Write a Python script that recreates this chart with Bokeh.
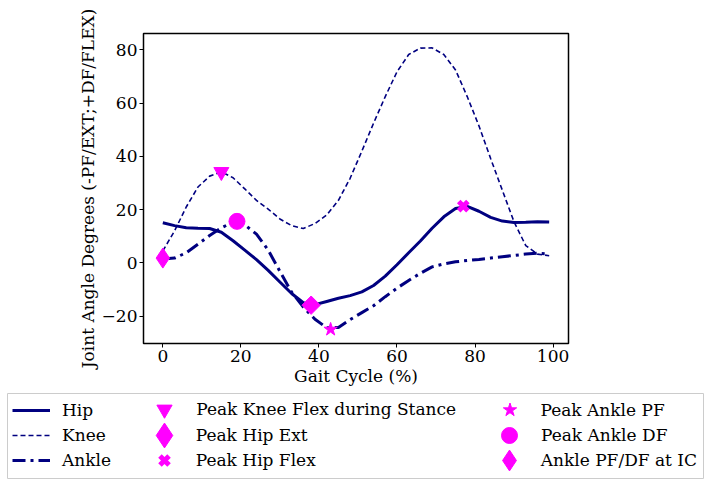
import math
from bokeh.plotting import figure
from bokeh.models import Range1d, FixedTicker, Legend, LegendItem
from bokeh.embed import file_html
from bokeh.resources import INLINE

# ---------------- data ----------------
gait_pct = [0, 3, 6, 9, 12, 15, 18, 21, 24, 27, 30, 33, 36, 39, 42, 45, 48,
            51, 54, 57, 60, 63, 66, 69, 72, 75, 78, 81, 84, 87, 90, 93, 96, 99]
hip_deg = [15.1, 14.0, 13.2, 13.0, 12.9, 11.5, 8.3, 4.8, 1.2, -2.8, -7.2, -11.5,
           -15.0, -15.7, -14.5, -13.3, -12.3, -10.9, -8.5, -5.0, -0.7, 3.8, 8.2,
           13.0, 17.3, 20.4, 21.2, 19.4, 17.1, 15.7, 15.2, 15.3, 15.5, 15.4]
knee_deg = [4.5, 12.0, 21.0, 28.5, 32.6, 34.2, 32.0, 27.8, 23.5, 20.2, 16.5, 14.0,
            12.9, 14.8, 18.0, 23.5, 31.8, 42.0, 52.5, 62.5, 71.8, 78.3, 80.7,
            80.8, 78.3, 72.5, 62.5, 51.5, 39.2, 27.3, 15.4, 6.5, 3.3, 2.7]
ankle_deg = [1.5, 1.8, 3.8, 7.0, 10.3, 13.2, 15.3, 14.3, 10.8, 4.8, -3.2, -11.0,
             -16.6, -21.2, -24.4, -24.3, -21.3, -18.7, -16.1, -12.7, -9.5, -6.6,
             -3.9, -1.5, -0.4, 0.4, 0.9, 1.3, 1.8, 2.3, 2.8, 3.3, 3.6, 3.3]

event_names = ["Peak Knee Flex during Stance", "Peak Hip Ext", "Peak Hip Flex",
               "Peak Ankle PF", "Peak Ankle DF", "Ankle PF/DF at IC"]
event_pct = [15, 38, 77, 43, 19, 0]
event_deg = [34.2, -15.9, 21.3, -25.0, 15.6, 1.8]

joint_names = ["Hip", "Knee", "Ankle"]
x_ticks = [0, 20, 40, 60, 80, 100]
y_ticks = [-20, 0, 20, 40, 60, 80]

# ---------------- styles ----------------
FONT = "DejaVu Serif"
FS = "17px"
NAVY = "#000080"
MAGENTA = "#ff00ff"

line_styles = {
    "Hip": dict(line_width=3),
    "Knee": dict(line_width=1.6, line_dash="5 3"),
    "Ankle": dict(line_width=3, line_dash="13 5 3 5"),
}
marker_styles = {
    "Peak Knee Flex during Stance": dict(marker="inverted_triangle", size=15),
    "Peak Hip Ext": dict(marker="square", size=13, angle=math.pi / 4),
    "Peak Hip Flex": dict(marker="x", size=13, line_width=5),
    "Peak Ankle PF": dict(marker="star", size=14),
    "Peak Ankle DF": dict(marker="circle", size=16),
    "Ankle PF/DF at IC": dict(marker="diamond", size=20),
}
# legend swatches (legend ignores marker angle, so use a wide diamond there)
legend_marker_styles = dict(marker_styles)
legend_marker_styles["Peak Hip Ext"] = dict(marker="diamond", size=25)
legend_marker_styles["Ankle PF/DF at IC"] = dict(marker="diamond", size=21)
legend_marker_styles["Peak Hip Flex"] = dict(marker="x", size=13, line_width=5)


def add_marker(fig, name, xs, ys, styles):
    st = dict(styles[name])
    if st["marker"] == "x":
        return fig.scatter(xs, ys, line_color=MAGENTA, **st)
    return fig.scatter(xs, ys, fill_color=MAGENTA, line_color=MAGENTA, **st)


# ---------------- main plot ----------------
W = 704
FL, FT, FW, FH = 143, 33, 425, 310
H = 393

p = figure(width=W, height=H,
           x_range=Range1d(-4.95, 103.95), y_range=Range1d(-30.3, 86.2),
           output_backend="svg", toolbar_location=None,
           min_border_left=FL, min_border_right=W - FL - FW,
           min_border_top=FT, min_border_bottom=H - FT - FH)

series = {"Hip": hip_deg, "Knee": knee_deg, "Ankle": ankle_deg}
for name in joint_names:
    p.line(gait_pct, series[name], color=NAVY, **line_styles[name])

for name, ex, ey in zip(event_names, event_pct, event_deg):
    add_marker(p, name, [ex], [ey], marker_styles)

p.outline_line_color = "black"
p.outline_line_width = 1.5
p.outline_line_alpha = 1
p.grid.visible = False
p.background_fill_color = "white"
p.border_fill_color = "white"

p.xaxis.ticker = FixedTicker(ticks=x_ticks)
p.yaxis.ticker = FixedTicker(ticks=y_ticks)
p.yaxis.major_label_overrides = {t: str(t).replace("-", "\u2212") for t in y_ticks}
p.axis.axis_line_color = None
p.axis.minor_tick_line_color = None
p.axis.major_tick_in = 0
p.axis.major_tick_out = 4
p.axis.major_tick_line_color = "black"
p.axis.major_tick_line_width = 1
p.axis.major_label_text_font = FONT
p.axis.major_label_text_font_size = FS
p.axis.major_label_text_color = "black"
p.axis.axis_label_text_font = FONT
p.axis.axis_label_text_font_size = FS
p.axis.axis_label_text_font_style = "normal"
p.axis.axis_label_text_color = "black"
p.xaxis.major_label_standoff = 2
p.yaxis.major_label_standoff = 2
p.xaxis.axis_label_standoff = 1
p.yaxis.axis_label_standoff = 1
p.xaxis.axis_label = "Gait Cycle (%)"
p.yaxis.axis_label = "Joint Angle Degrees (-PF/EXT;+DF/FLEX)"

# ---------------- legend panel (separate root, below) ----------------
LBL, LBW, LBH = 7, 696, 85
lf = figure(width=W, height=LBH + 1, x_range=Range1d(0, 1), y_range=Range1d(0, 1),
            output_backend="svg", toolbar_location=None,
            min_border_left=LBL, min_border_right=W - LBL - LBW,
            min_border_top=0, min_border_bottom=1,
            x_axis_location=None, y_axis_location=None)
lf.grid.visible = False
lf.outline_line_color = "#cccccc"
lf.outline_line_width = 1
lf.background_fill_color = "white"
lf.border_fill_color = "white"

nan = float("nan")
swatch = {}
for name in joint_names:
    swatch[name] = lf.line([nan], [nan], color=NAVY, **line_styles[name])
for name in event_names:
    swatch[name] = add_marker(lf, name, [nan], [nan], legend_marker_styles)

row_centers = [16.5, 41.5, 66.5]  # from top of legend box
legend_cols = [
    (joint_names, None, 5, 55),
    (["Peak Knee Flex during Stance", "Peak Hip Ext", "Peak Hip Flex"], 157, None, 189),
    (["Peak Ankle PF", "Peak Ankle DF", "Ankle PF/DF at IC"], 502, None, 534),
]
for names, cx, gx, text_x in legend_cols:
    for name, rc in zip(names, row_centers):
        if cx is None:
            gw, gh = 38, 20
            gx0 = gx
        else:
            s = legend_marker_styles[name]["size"]
            gw = gh = s / 0.4
            gx0 = cx - gw / 2
        leg = Legend(items=[LegendItem(label=name, renderers=[swatch[name]])],
                     location=(gx0, LBH - (rc + gh / 2)),
                     glyph_width=int(round(gw)), glyph_height=int(round(gh)),
                     label_standoff=int(round(text_x - (gx0 + gw))),
                     padding=0, margin=0, spacing=0,
                     border_line_color=None, background_fill_alpha=0,
                     label_text_font=FONT, label_text_font_size=FS,
                     label_text_color="black")
        lf.add_layout(leg, "center")

open("out.html", "w").write(file_html([p, lf], INLINE))
